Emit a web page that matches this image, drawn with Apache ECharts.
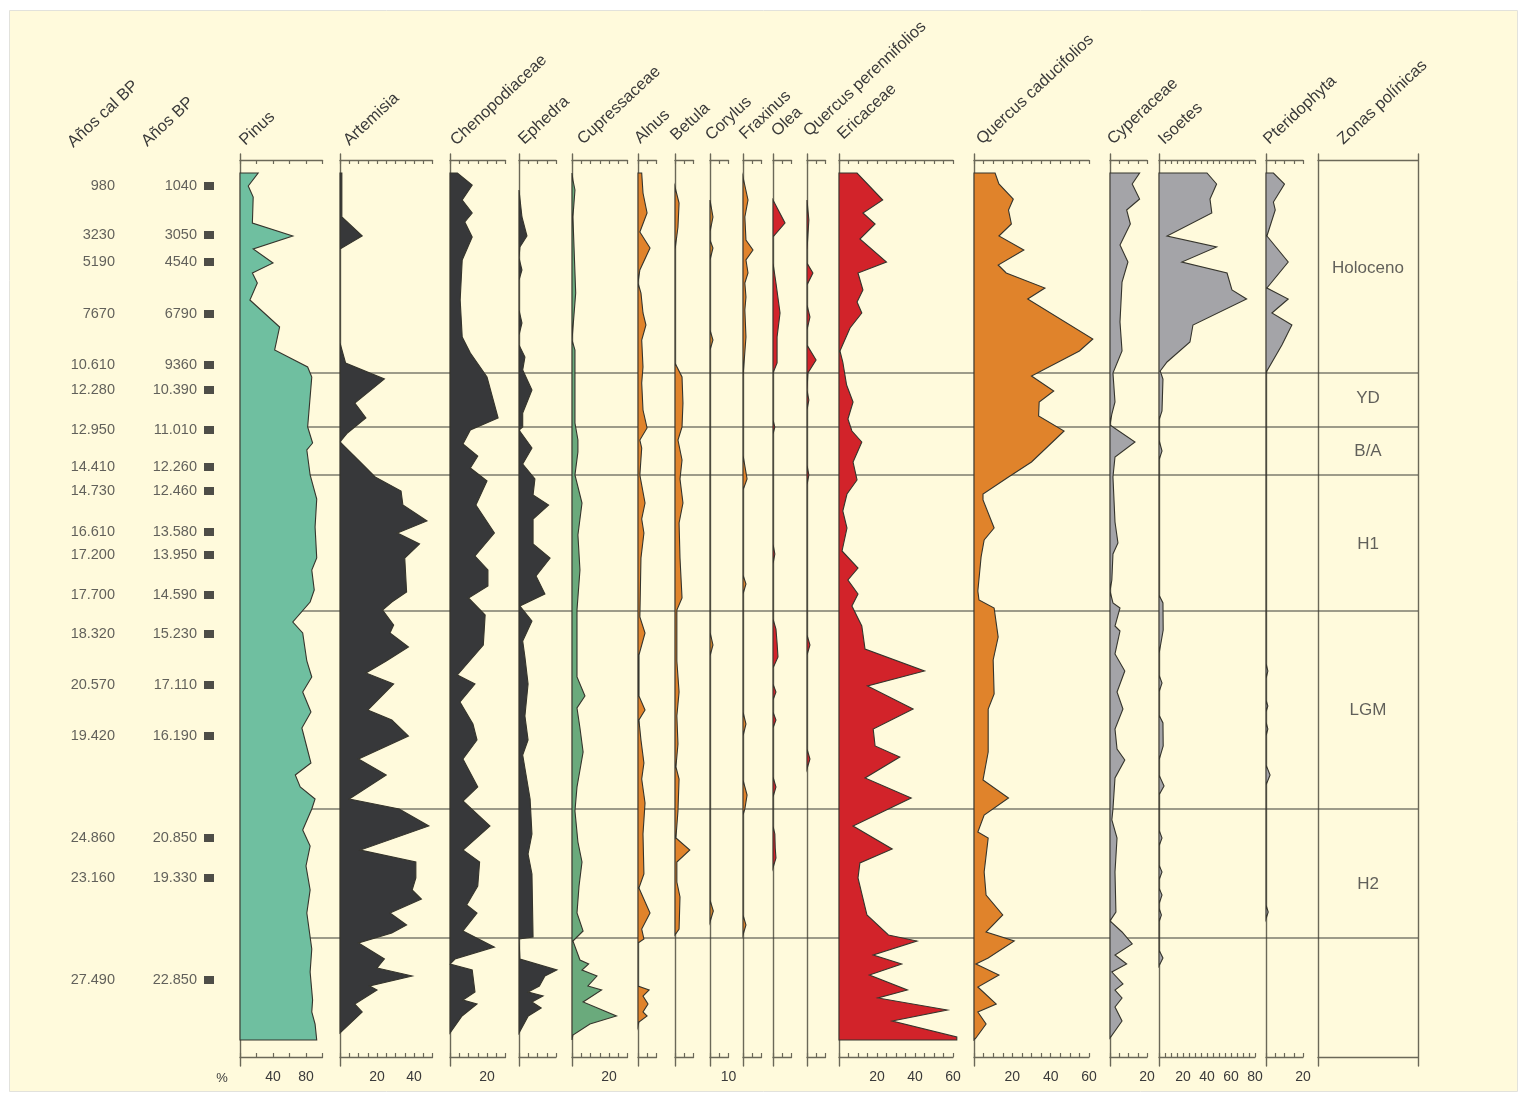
<!DOCTYPE html>
<html>
<head>
<meta charset="utf-8">
<script src="https://cdn.jsdelivr.net/npm/echarts@6/dist/echarts.min.js"></script>
<style>
html, body { margin: 0; padding: 0; background: #fff; }
#chart { width: 1521px; height: 1094px; }
</style>
</head>
<body>
<div id="chart"></div>
<script>
var pinus = [[173,22],[186,10],[197,16],[223,15],[236,64],[249,16],[263,40],[273,15],[283,21],[300,12],[327,48],[350,42],[367,82],[377,87],[427,82],[443,88],[450,81],[475,85],[499,93],[527,91],[558,93],[570,87],[590,90],[602,85],[622,64],[633,76],[661,81],[677,87],[692,76],[712,86],[728,75],[763,86],[775,67],[787,73],[799,91],[809,87],[830,76],[846,85],[866,80],[890,85],[913,81],[949,87],[972,85],[1000,88],[1012,87],[1024,91],[1040,93]];
var artemisia = [[173,1],[217,1],[236,12],[249,0],[343,0],[363,3],[379,24],[403,8],[418,14],[433,4],[442,0],[464,12],[477,19],[491,33],[505,34],[521,47],[533,31],[544,43],[558,35],[592,36],[602,28],[610,23],[625,29],[633,27],[647,37],[661,25],[673,14],[684,29],[710,15],[720,28],[736,37],[759,10],[775,25],[799,5],[809,32],[826,48],[850,11],[862,41],[878,41],[890,39],[899,44],[913,27],[925,36],[933,28],[943,10],[959,24],[968,20],[976,39],[986,16],[990,20],[1004,8],[1012,12],[1033,0]];
var chenopodiaceae = [[173,4],[185,12],[200,6.6],[213,12],[222,8],[237,12],[260,6.6],[300,5.5],[337,6.6],[353,11],[377,20],[418,26],[430,11],[444,7],[456,15],[468,11],[481,20],[505,14],[533,24],[556,13.5],[570,20.5],[586,20.5],[598,10],[615,19],[645,18],[675,4],[684,13.5],[702,5.4],[724,12.4],[740,14.6],[759,7],[787,15],[801,7],[826,21.6],[850,7],[862,16],[886,15],[905,9],[913,14.6],[931,7],[947,24],[959,2.7],[964,0],[970,12],[992,13.5],[1000,7],[1004,14.6],[1016,6.5],[1033,0]];
var ephedra = [[190,0],[217,1.6],[236,4.3],[247,0.5],[258,0],[270,1.6],[280,0],[310,0],[323,1.6],[335,0],[345,0],[357,3.2],[370,2],[390,7],[413,2],[427,2],[430,0],[448,7],[464,2],[479,8.6],[495,7.6],[505,16],[519,7.6],[544,7.6],[558,16.8],[576,9.2],[594,14],[606,0.5],[621,7],[641,2],[657,3.2],[684,4.9],[716,3.2],[740,4.9],[755,2],[799,6],[834,7],[854,4.9],[874,7],[937,7.6],[939,0],[959,0.5],[970,20.5],[976,14],[986,11],[992,4.9],[996,13],[1002,7],[1008,12],[1016,5],[1033,0]];
var cupressaceae = [[173,0],[180,0.5],[190,1.6],[217,0.5],[293,2],[340,0],[350,1.6],[423,1.6],[440,3.2],[452,3.2],[475,1.6],[503,5.4],[535,3.2],[570,4.3],[610,2.7],[677,2.7],[696,7],[708,2.7],[728,4.3],[752,6],[787,2.7],[811,1.6],[842,3.2],[862,5.4],[886,3.8],[913,2.7],[931,6],[941,0.5],[960,4.3],[964,9],[970,5.4],[976,13.5],[986,8.6],[990,16],[1002,6],[1016,24],[1024,9.7],[1035,0.5],[1040,0]];
var alnus = [[173,2],[193,2.7],[213,4.9],[232,1],[248,6.5],[270,1],[283,0],[293,1.6],[313,2.7],[325,4.3],[340,2],[367,2.7],[383,2],[410,2.7],[428,4.9],[440,1],[448,2],[475,1],[503,3.8],[519,2],[533,3.2],[558,1.6],[617,1],[633,3.8],[655,0.5],[696,0.5],[710,3.8],[720,0.5],[740,1.6],[763,3.2],[779,2],[803,3.8],[834,2.7],[874,3.2],[888,0.5],[913,6.5],[929,2],[939,3.2],[943,0],[986,0],[990,6],[996,2.7],[1004,5.4],[1012,2.7],[1016,4.9],[1022,0.5],[1026,0]];
var betula = [[187,0],[203,2.2],[227,1.6],[250,0],[363,0],[377,3.8],[403,4.3],[427,3.8],[440,1.6],[460,3.8],[479,2.7],[503,4.3],[523,2.2],[558,2.7],[598,3.8],[610,1],[661,1],[692,2.2],[716,1],[744,1.6],[767,0.5],[779,2.2],[811,1.6],[838,0.5],[850,8],[862,1],[882,1],[897,2.7],[929,2.2],[935,0]];
var corylus = [[200,0],[217,1.6],[232,0],[240,0],[248,1.6],[260,0],[330,0],[340,1.6],[350,0],[632,0],[645,1.6],[656,0],[900,0],[911,1.8],[922,0]];
var fraxinus = [[177,0],[200,2.7],[217,1],[240,1.6],[250,5.4],[260,1.6],[273,2.7],[283,1],[297,1.6],[310,1],[337,1.6],[377,0],[455,0],[479,2.2],[490,0],[575,0],[584,1.6],[594,0],[712,0],[724,1.6],[736,0],[780,0],[795,2.2],[809,1],[815,0],[915,0],[925,1.6],[935,0]];
var olea = [[200,0],[223,6.5],[237,0],[263,0],[283,1.6],[313,3.8],[337,2.2],[363,2.2],[373,0],[420,0],[427,1],[434,0],[544,0],[554,1],[564,0],[619,0],[629,1.6],[643,2.2],[657,2.7],[668,0],[684,0],[692,1.6],[700,0],[712,0],[720,1.6],[728,0],[777,0],[787,1.6],[797,0],[826,0],[834,1],[848,1.2],[858,1.6],[868,0]];
var quercusPerennifolios = [[200,0],[210,0.5],[220,1],[250,0],[263,0],[273,3.2],[285,0],[305,0],[317,1.6],[330,0],[345,0],[360,4.9],[373,0.5],[390,0],[400,1],[410,0],[465,0],[475,1],[485,0],[635,0],[645,1.6],[655,0],[749,0],[759,1.6],[769,0]];
var ericaceae = [[173,9.5],[200,23],[213,12.6],[224,19],[239,11],[262,25],[273,10],[290,12.6],[302,9.5],[313,12],[328,5.8],[351,0.5],[362,2],[385,4],[402,7.4],[419,4.7],[431,6.8],[442,12],[462,7.4],[480,9.5],[494,4.2],[511,2],[528,4.2],[551,1.6],[568,10],[580,4.7],[594,10],[606,6.8],[626,12],[649,13.7],[671,45],[686,15],[709,39],[729,18],[746,19],[757,32],[778,13.7],[798,38],[826,7.4],[849,28],[863,11],[878,10],[915,14.7],[935,26],[941,41],[955,18],[964,33],[975,16],[990,36],[998,20.5],[1010,57],[1021,28],[1037,62],[1040,62]];
var quercusCaducifolios = [[173,11],[184,13],[199,20.5],[210,18],[224,19.5],[236,13],[250,26],[265,12.6],[273,16.8],[288,37],[299,28],[339,62],[351,55],[376,30],[391,41.6],[402,34],[416,33.7],[431,47],[462,30],[477,18],[494,4.7],[500,4.7],[528,10.5],[540,5.3],[557,3.7],[591,2],[600,2.6],[608,10.5],[637,12.6],[660,10],[694,10.5],[709,7.4],[752,7.4],[780,4.7],[798,18],[815,5.3],[832,2],[838,7.4],[872,5.3],[895,6.3],[915,15],[932,6.3],[941,21],[958,7.4],[964,1],[975,13],[987,2],[1004,11.6],[1012,2],[1024,6.3],[1038,1],[1040,0]];
var cyperaceae = [[173,16],[184,12],[199,16],[210,9],[224,11],[245,5.4],[262,9.7],[282,6.5],[322,5.4],[351,6.5],[373,1.6],[402,2.7],[414,1],[425,0],[442,13.5],[457,2.7],[477,1.6],[522,2.7],[543,4.3],[554,1.6],[580,1],[591,0],[603,1.6],[608,5.4],[626,2.7],[631,5.4],[654,2.7],[671,8],[692,3.8],[709,7],[729,2.7],[749,3.8],[760,8],[778,2.7],[809,1.6],[820,1],[838,3.8],[872,2.7],[912,3.2],[921,0],[932,6.5],[944,12],[955,2.7],[964,9],[972,1],[984,7],[990,2.7],[998,6.5],[1007,2.7],[1021,6.5],[1038,0]];
var isoetes = [[173,40],[184,48],[199,42.5],[213,44],[236,6.7],[247,48],[262,19],[273,56.7],[290,60.8],[299,73],[325,28.3],[342,25.8],[362,6.7],[371,1],[379,3.3],[411,2.5],[420,0],[440,0],[451,2.5],[460,0],[595,0],[603,3.3],[630,3.5],[654,0],[675,0],[683,2.5],[692,0],[715,0],[723,3.3],[746,3.5],[760,0],[775,0],[786,4.2],[795,0],[830,0],[838,2.5],[846,0],[865,0],[872,2.5],[880,0],[888,0],[895,2.5],[904,0],[908,0],[915,2],[922,0],[950,0],[958,3.3],[966,0]];
var pteridophyta = [[173,4],[184,10],[202,4],[210,5],[236,0.5],[262,12],[288,0.5],[299,12],[313,3.2],[325,14],[345,8.6],[371,0.5],[375,0],[663,0],[671,1],[679,0],[700,0],[706,1],[712,0],[722,0],[729,1],[736,0],[765,0],[775,2.2],[785,0],[905,0],[912,1.2],[919,0]];

// edades
var ageDepth = [186,235,262,314,365,390,430,467,491,532,555,595,634,685,736,838,878,980];
var ageCalBP = ['980','3230','5190','7670','10.610','12.280','12.950','14.410','14.730','16.610','17.200','17.700','18.320','20.570','19.420','24.860','23.160','27.490'];
var ageBP = ['1040','3050','4540','6790','9360','10.390','11.010','12.260','12.460','13.580','13.950','14.590','15.230','17.110','16.190','20.850','19.330','22.850'];

// zonas polínicas
var zoneLimits = [373,427,475,611,809,938];
var zoneNames = ['Holoceno','YD','B/A','H1','LGM','H2'];
var zoneLabelDepth = [268,398,451,544,710,884];

var TOP = 154, BOTTOM = 1066;
var FONT = '"Liberation Sans", Arial, sans-serif';
var TITLE_FONT = '16.5px ' + FONT;
var TILT = 43 * Math.PI / 180;
var axisColor = '#6b6858';
var outline = '#35342c';

var panels = [
    {name:'Pinus', data:pinus, left:240, width:82.5, max:100, step:20, color:'#6fbfa0', labels:[40,80], title:[248,149]},
    {name:'Artemisia', data:artemisia, left:340, width:92.5, max:50, step:5, color:'#37383a', labels:[20,40], title:[352,149]},
    {name:'Chenopodiaceae', data:chenopodiaceae, left:450, width:55.5, max:30, step:5, color:'#37383a', labels:[20], title:[459,149]},
    {name:'Ephedra', data:ephedra, left:519, width:37, max:20, step:5, color:'#37383a', labels:[], title:[527,148]},
    {name:'Cupressaceae', data:cupressaceae, left:572, width:55.5, max:30, step:5, color:'#6aaa7c', labels:[20], title:[586,148]},
    {name:'Alnus', data:alnus, left:638, width:18.5, max:10, step:5, color:'#e0832b', labels:[], title:[643,147]},
    {name:'Betula', data:betula, left:675, width:18.5, max:10, step:5, color:'#e0832b', labels:[], title:[679,144]},
    {name:'Corylus', data:corylus, left:710, width:18.5, max:10, step:5, color:'#c9822f', labels:[10], title:[714,144]},
    {name:'Fraxinus', data:fraxinus, left:743, width:18.5, max:10, step:5, color:'#e0832b', labels:[], title:[748,143]},
    {name:'Olea', data:olea, left:773, width:18.5, max:10, step:5, color:'#d2232a', labels:[], title:[780,140]},
    {name:'Quercus perennifolios', data:quercusPerennifolios, left:807, width:18.5, max:10, step:5, color:'#d2232a', labels:[], title:[812,140]},
    {name:'Ericaceae', data:ericaceae, left:839, width:114, max:60, step:5, color:'#d2232a', labels:[20,40,60], title:[846,143]},
    {name:'Quercus caducifolios', data:quercusCaducifolios, left:974, width:115, max:60, step:5, color:'#e0832b', labels:[20,40,60], title:[985,148]},
    {name:'Cyperaceae', data:cyperaceae, left:1110, width:37, max:20, step:5, color:'#a4a4a8', labels:[20], title:[1116,148]},
    {name:'Isoetes', data:isoetes, left:1159, width:96, max:80, step:5, color:'#a4a4a8', labels:[20,40,60,80], title:[1167,148]},
    {name:'Pteridophyta', data:pteridophyta, left:1266, width:37, max:20, step:5, color:'#a4a4a8', labels:[20], title:[1272,148]}
];

function profileRenderer(p) {
    return function (params, api) {
        if (params.dataIndex !== 0) return;
        var pts = [api.coord([0, p.data[0][0]])];
        for (var k = 0; k < p.data.length; k++) {
            pts.push(api.coord([p.data[k][1], p.data[k][0]]));
        }
        pts.push(api.coord([0, p.data[p.data.length - 1][0]]));
        return {
            type: 'polygon',
            shape: {points: pts},
            style: {fill: p.color, stroke: outline, lineWidth: 1.1, lineJoin: 'miter'}
        };
    };
}

function tiltedTitle(text, x, y) {
    return {
        type: 'text', x: x, y: y, rotation: TILT, silent: true,
        style: {text: text, font: TITLE_FONT, fill: '#3a3a3a', textAlign: 'left', textVerticalAlign: 'bottom'}
    };
}

var grids = [], xAxes = [], yAxes = [], series = [];
var graphics = [{
    type: 'rect', z: -100, silent: true,
    shape: {x: 9.5, y: 10.5, width: 1508, height: 1081},
    style: {fill: '#fffadc', stroke: '#e2e2dc', lineWidth: 1}
}];

function depthAxis(gi, show, pos) {
    return {
        gridIndex: gi, type: 'value', inverse: true, min: TOP, max: BOTTOM, position: pos || 'left',
        show: show,
        axisLine: {show: true, onZero: false, lineStyle: {color: axisColor, width: 1.4}},
        axisTick: {show: false}, axisLabel: {show: false}, splitLine: {show: false}
    };
}

panels.forEach(function (p, i) {
    grids.push({left: p.left, top: TOP, width: p.width, height: BOTTOM - TOP});
    yAxes.push(depthAxis(i, true));
    var common = {
        gridIndex: i, type: 'value', min: 0, max: p.max, interval: p.step,
        axisLine: {show: true, onZero: false, lineStyle: {color: axisColor, width: 1.4}},
        axisTick: {show: true, inside: true, length: 4, lineStyle: {color: axisColor, width: 1.2}},
        splitLine: {show: false}
    };
    xAxes.push(Object.assign({}, common, {position: 'top', offset: -6, axisLabel: {show: false}}));
    xAxes.push(Object.assign({}, common, {
        position: 'bottom', offset: -9,
        axisLabel: {
            show: true, margin: 13, color: '#3a3a3a', fontSize: 14, fontFamily: FONT,
            showMinLabel: true, showMaxLabel: true,
            formatter: function (v) { return p.labels.indexOf(v) >= 0 ? String(v) : ''; }
        }
    }));
    series.push({
        type: 'custom', name: p.name, xAxisIndex: 2 * i, yAxisIndex: i, z: 3,
        clip: false,
        data: p.data.map(function (d) { return [d[1], d[0]]; }),
        renderItem: profileRenderer(p)
    });
    graphics.push(tiltedTitle(p.name, p.title[0], p.title[1]));
});

// líneas de zonas (detrás de las curvas)
var gZ = grids.length;
grids.push({left: 240, top: TOP, width: 1178, height: BOTTOM - TOP});
xAxes.push({gridIndex: gZ, type: 'value', min: 0, max: 1, show: false});
yAxes.push(depthAxis(gZ, false));
series.push({
    type: 'custom', xAxisIndex: xAxes.length - 1, yAxisIndex: yAxes.length - 1, z: 1, silent: true,
    data: zoneLimits.map(function (d) { return [0, d]; }),
    renderItem: function (params, api) {
        var a = api.coord([0, api.value(1)]), b = api.coord([1, api.value(1)]);
        return {type: 'line', shape: {x1: a[0], y1: a[1], x2: b[0], y2: b[1]},
            style: {stroke: '#3c3c36', lineWidth: 1.2}};
    }
});

// columna de zonas polínicas
var gP = grids.length;
grids.push({left: 1318, top: TOP, width: 100, height: BOTTOM - TOP});
var zx = {gridIndex: gP, type: 'value', min: 0, max: 100,
    axisLine: {show: true, onZero: false, lineStyle: {color: axisColor, width: 1.4}},
    axisTick: {show: false}, axisLabel: {show: false}, splitLine: {show: false}};
xAxes.push(Object.assign({}, zx, {position: 'top', offset: -6}));
var zxTop = xAxes.length - 1;
xAxes.push(Object.assign({}, zx, {position: 'bottom', offset: -9}));
yAxes.push(depthAxis(gP, true, 'left'));
var zyLeft = yAxes.length - 1;
yAxes.push(depthAxis(gP, true, 'right'));
series.push({
    type: 'scatter', xAxisIndex: zxTop, yAxisIndex: zyLeft, symbolSize: 0, silent: true, z: 4,
    data: zoneLabelDepth.map(function (d, k) { return {value: [50, d], name: zoneNames[k]}; }),
    label: {show: true, position: 'inside', formatter: '{b}', color: '#3a3a3a', fontSize: 17, fontFamily: FONT}
});
graphics.push(tiltedTitle('Zonas polínicas', 1346, 148));

// columnas de edades
var gA = grids.length;
grids.push({left: 60, top: TOP, width: 160, height: BOTTOM - TOP});
xAxes.push({gridIndex: gA, type: 'value', min: 0, max: 160, show: false});
var axA = xAxes.length - 1;
yAxes.push(depthAxis(gA, false));
var ayA = yAxes.length - 1;
series.push({
    type: 'scatter', xAxisIndex: axA, yAxisIndex: ayA, symbolSize: 0, silent: true,
    data: ageDepth.map(function (d, k) { return {value: [55, d], name: ageCalBP[k]}; }),
    label: {show: true, position: 'left', distance: 0, formatter: '{b}', color: '#3a3a3a', fontSize: 14.5, fontFamily: FONT}
});
series.push({
    type: 'scatter', xAxisIndex: axA, yAxisIndex: ayA, symbol: 'rect', symbolSize: [10, 8], silent: true,
    itemStyle: {color: '#222'},
    data: ageDepth.map(function (d, k) { return {value: [149, d], name: ageBP[k]}; }),
    label: {show: true, position: 'left', distance: 7, formatter: '{b}', color: '#3a3a3a', fontSize: 14.5, fontFamily: FONT}
});
graphics.push(tiltedTitle('Años cal BP', 76, 151));
graphics.push(tiltedTitle('Años BP', 150, 150));
graphics.push({
    type: 'text', x: 222, y: 1078, silent: true,
    style: {text: '%', font: '13px ' + FONT, fill: '#3a3a3a', textAlign: 'center', textVerticalAlign: 'middle'}
});

var myChart = echarts.init(document.getElementById('chart'));
myChart.setOption({
    animation: false,
    backgroundColor: '#ffffff',
    grid: grids,
    xAxis: xAxes,
    yAxis: yAxes,
    series: series,
    graphic: graphics
});
</script>
</body>
</html>
